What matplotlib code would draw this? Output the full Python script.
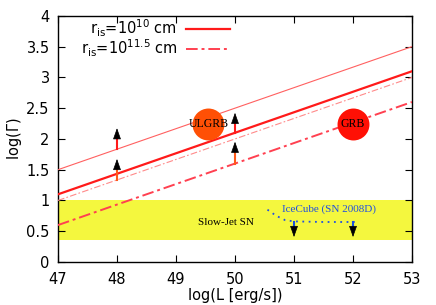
import matplotlib
matplotlib.use("Agg")
import matplotlib.pyplot as plt
import numpy as np

# ── data ─────────────────────────────────────────────────────────────────────
L = np.array([47, 53])
thick_solid = np.array([1.1, 3.1])      # r_is = 10^10 cm
thick_dashdot = np.array([0.6, 2.6])    # r_is = 10^11.5 cm
thin_solid = np.array([1.5, 3.5])
thin_dashdot = np.array([1.0, 3.0])

band = (0.35, 1.0)                      # slow-jet SN region

# lower limits (upward arrows): x, start, end
up_L = [48, 48, 50, 50]
up_y0 = [1.33, 1.83, 1.6, 2.1]
up_y1 = [1.72, 2.22, 2.0, 2.47]
up_col = ["#ff5a1a", "#ff1a1a", "#ff5a1a", "#ff1a1a"]

# IceCube (SN 2008D) upper limits
ice_L = [50.55, 50.7, 50.85, 51.0, 51.5, 52.1]
ice_y = [0.85, 0.75, 0.68, 0.66, 0.65, 0.65]
down_L = [51, 52]
down_y0 = [0.65, 0.65]
down_y1 = [0.36, 0.36]

objects = ["ULGRB", "GRB"]
obj_L = [49.55, 52.0]
obj_G = [2.24, 2.24]
obj_col = ["#ff5005", "#ff1005"]

# ── figure ───────────────────────────────────────────────────────────────────
fig = plt.figure(figsize=(4.36, 3.05), dpi=100)
ax = fig.add_axes([0.133, 0.141, 0.812, 0.807])

ax.axhspan(*band, color="#f4f73e", zorder=0, lw=0)

ax.plot(L, thick_solid, color="#ff1a1a", lw=1.6, label=r"r$_{\rm is}$=10$^{10}$ cm", zorder=3)
ax.plot(L, thick_dashdot, color="#ff4050", lw=1.4, ls=(0, (6, 2, 1.5, 2)),
        label=r"r$_{\rm is}$=10$^{11.5}$ cm", zorder=3)
ax.plot(L, thin_solid, color="#ff6060", lw=0.8, zorder=3)
ax.plot(L, thin_dashdot, color="#ff8a8a", lw=0.8, ls=(0, (6, 2, 1.5, 2)), zorder=3)

for x, y0, y1, c in zip(up_L, up_y0, up_y1, up_col):
    ax.plot([x, x], [y0, y1 - 0.12], color=c, lw=1.5, zorder=4)
    ax.annotate("", xy=(x, y1), xytext=(x, y1 - 0.14),
                arrowprops=dict(arrowstyle="-|>,head_width=0.25,head_length=0.7",
                                color="black", lw=0.5), zorder=5)

ax.plot(ice_L, ice_y, color="#2050e0", lw=1.3, ls=(0, (1, 2.5)), zorder=4)
for x, y0, y1 in zip(down_L, down_y0, down_y1):
    ax.plot([x, x], [y0, y1 + 0.12], color="#1a50e0", lw=1.5, zorder=4)
    ax.annotate("", xy=(x, y1), xytext=(x, y1 + 0.14),
                arrowprops=dict(arrowstyle="-|>,head_width=0.25,head_length=0.7",
                                color="black", lw=0.5), zorder=5)

for name, x, y, c in zip(objects, obj_L, obj_G, obj_col):
    ax.plot(x, y, "o", ms=23, color=c, mec="none", zorder=6)
    ax.text(x, y, name, ha="center", va="center", family="Liberation Serif",
            fontsize=8.5, zorder=7)

ax.text(49.85, 0.64, "Slow-Jet SN", ha="center", va="center",
        family="Liberation Serif", fontsize=8)
ax.text(51.6, 0.86, "IceCube (SN 2008D)", ha="center", va="center",
        family="Liberation Serif", fontsize=8, color="#2050e0")

ax.set_xlim(47, 53)
ax.set_ylim(0, 4)
ax.set_xticks(range(47, 54))
ax.set_yticks(np.arange(0, 4.01, 0.5))
ax.set_yticklabels(["0", "0.5", "1", "1.5", "2", "2.5", "3", "3.5", "4"])
ax.tick_params(direction="in", top=True, right=True, length=5, labelsize=10.5, width=0.8)
ax.tick_params(axis="x", pad=7)
ax.tick_params(axis="y", pad=6)
for s in ax.spines.values():
    s.set_linewidth(1.0)
ax.set_xlabel("log(L [erg/s])", fontsize=10.5, labelpad=1)
ax.set_ylabel(r"log($\Gamma$)", fontsize=10.5, labelpad=2)

ax.legend(loc="upper left", bbox_to_anchor=(0.06, 1.0), frameon=False,
          markerfirst=False, fontsize=10.5, handlelength=3.0,
          labelspacing=-0.08, handletextpad=0.6, borderaxespad=0.0, borderpad=0.1)

fig.savefig("out.png", dpi=100)
